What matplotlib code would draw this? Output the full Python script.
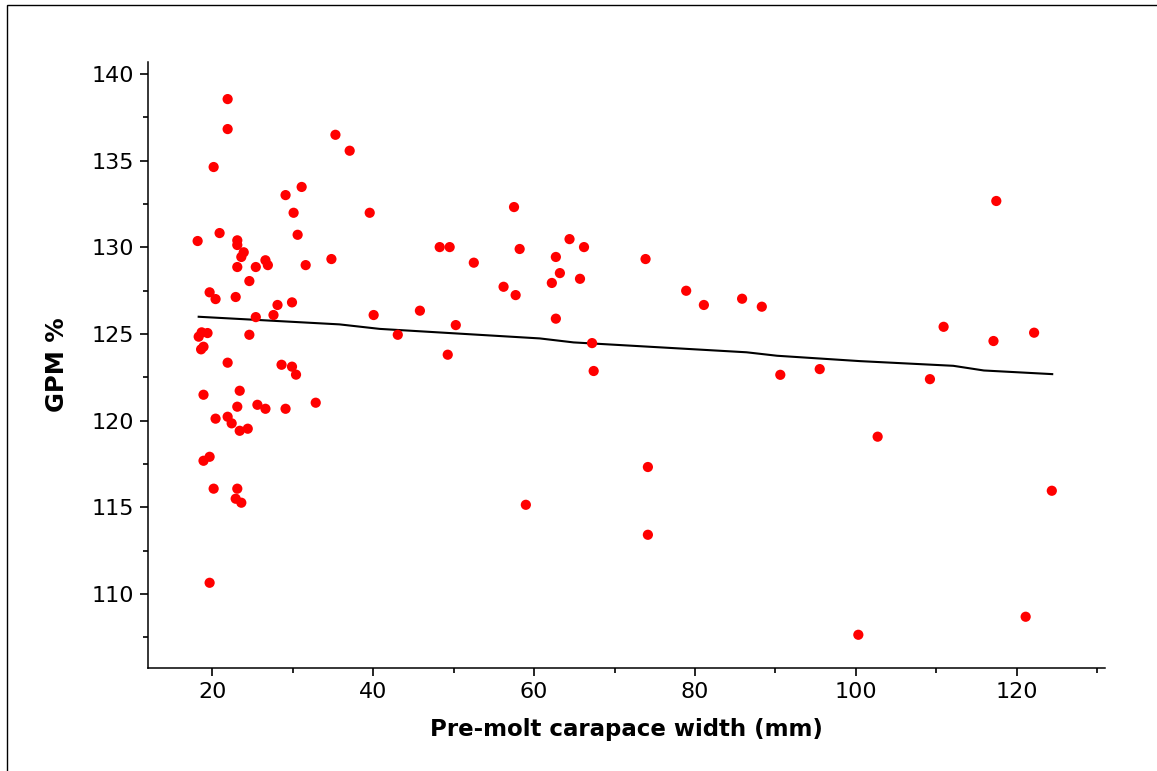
import matplotlib
matplotlib.use("Agg")
import matplotlib.pyplot as plt
from matplotlib.ticker import MultipleLocator
from matplotlib.patches import Rectangle

# Pre-molt carapace width (mm)
width_mm = [
    21.9, 21.9, 20.16, 35.3, 37.07, 31.1, 29.1, 30.1, 39.56, 30.6,
    18.17, 20.9, 23.1, 23.1, 23.9, 23.6, 26.6, 26.9, 23.1, 25.4,
    31.6, 34.8, 24.6, 19.66, 20.4, 22.9, 28.1, 29.9, 25.4, 27.6,
    40.05,
    18.67, 19.4, 18.3, 18.9, 18.6, 24.6, 21.9, 28.6, 29.9, 30.4,
    18.9, 23.4, 23.1, 25.6, 26.6, 29.1, 32.85, 20.4, 21.9, 22.4,
    23.4, 24.4, 19.66, 18.9, 20.16, 23.1, 22.9, 23.6, 19.66,
    57.5, 48.26, 49.5, 52.5, 58.2, 64.4, 66.2, 62.7, 63.2, 62.2,
    65.7, 73.85, 56.2, 57.7, 78.9, 81.1, 85.85, 88.3, 45.8, 50.26,
    43.05, 49.26, 62.7, 67.2, 67.4, 90.6,
    58.97, 74.14, 74.14, 102.7, 124.35, 121.1, 100.3, 117.45, 110.9, 117.1,
    122.15, 95.5, 109.2,
]

# GPM %
gpm_pct = [
    138.56, 136.83, 134.64, 136.5, 135.58, 133.49, 133.02, 132.0, 132.0, 130.73,
    130.37, 130.83, 130.41, 130.14, 129.72, 129.45, 129.26, 128.98, 128.87, 128.87,
    128.98, 129.33, 128.06, 127.41, 127.02, 127.14, 126.68, 126.83, 125.98, 126.10,
    126.10,
    125.10, 125.06, 124.85, 124.27, 124.12, 124.96, 123.35, 123.23, 123.12, 122.66,
    121.5, 121.73, 120.81, 120.92, 120.69, 120.69, 121.04, 120.12, 120.23, 119.85,
    119.42, 119.54, 117.92, 117.69, 116.08, 116.08, 115.5, 115.27, 110.65,
    132.33, 130.02, 130.02, 129.12, 129.91, 130.48, 130.02, 129.45, 128.52, 127.95,
    128.19, 129.33, 127.73, 127.25, 127.5, 126.68, 127.04, 126.58, 126.35, 125.52,
    124.96, 123.81, 125.89, 124.48, 122.87, 122.65,
    115.15, 117.33, 113.42, 119.08, 115.96, 108.69, 107.65, 132.68, 125.42, 124.6,
    125.08, 122.98, 122.4,
]

# Fitted trend line
trend_x = [18.3, 35.8, 40.8, 60.7, 64.9, 86.4, 90.2, 100.5, 112.1, 115.9, 124.4]
trend_y = [126.0, 125.56, 125.3, 124.75, 124.52, 123.95, 123.75, 123.44, 123.17, 122.9, 122.69]

x_ticks = [20, 40, 60, 80, 100, 120]
y_ticks = [110, 115, 120, 125, 130, 135, 140]

plt.rcParams['font.family'] = ['DejaVu Sans']

W, H = 1157, 771
fig = plt.figure(figsize=(W / 100, H / 100), dpi=100)
fig.patches.append(Rectangle((7 / W, -0.1), 1.2, 0.1 + (1 - 5 / H),
                             transform=fig.transFigure, fill=False,
                             edgecolor='black', linewidth=1.0))

ax = fig.add_axes([148 / W, 1 - 667.7 / H, (1104.5 - 148) / W, (667.7 - 62) / H])

ax.plot(trend_x, trend_y, color='black', linewidth=1.5, zorder=2)
ax.scatter(width_mm, gpm_pct, s=54, color='#ff0000', edgecolors='none', zorder=3)

ax.set_xlim(12.0, 130.9)
ax.set_ylim(105.75, 140.7)
ax.set_xticks(x_ticks)
ax.set_yticks(y_ticks)
ax.xaxis.set_minor_locator(MultipleLocator(10))
ax.yaxis.set_minor_locator(MultipleLocator(2.5))

for s in ['top', 'right']:
    ax.spines[s].set_visible(False)
for s in ['left', 'bottom']:
    ax.spines[s].set_linewidth(1.1)

ax.tick_params(axis='both', which='major', length=6, width=1.2, direction='out',
               labelsize=16, pad=4)
ax.tick_params(axis='both', which='minor', length=3.8, width=1.2, direction='out')

ax.set_xlabel('Pre-molt carapace width (mm)', fontsize=16.5, fontweight='bold', labelpad=12)
ax.set_ylabel('GPM %', fontsize=17.5, fontweight='bold', labelpad=16)

fig.savefig('out.png', dpi=100)
